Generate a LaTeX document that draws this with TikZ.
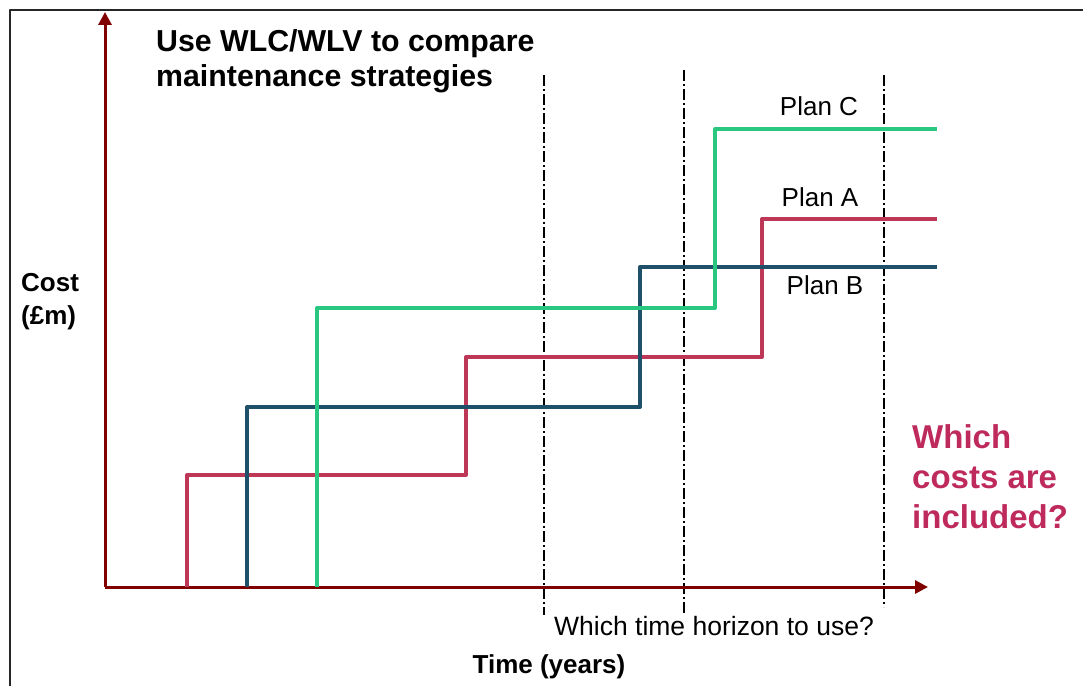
\documentclass[tikz,border=0pt]{standalone}
\usepackage{fontspec}
\setmainfont{Liberation Sans}
\usetikzlibrary{arrows.meta}
\definecolor{axisred}{RGB}{128,0,0}
\definecolor{planA}{RGB}{189,56,86}
\definecolor{planB}{RGB}{30,80,105}
\definecolor{planC}{RGB}{42,199,128}
\definecolor{askred}{RGB}{190,42,92}
\begin{document}
\begin{tikzpicture}[x=1pt,y=-1pt,>={Triangle[length=13pt,width=13pt]}, line join=round]
    \tikzset{plan/.style={line width=4pt},
        horizon/.style={line width=1.8pt, dash pattern=on 11pt off 3pt on 2pt off 3pt},
        lbl/.style={inner sep=0pt, font=\fontsize{26}{33}\selectfont}}
    \useasboundingbox (0,0) rectangle (1083,685);
    % frame
    \draw[line width=2pt, black!85] (10,700) -- (10,10) -- (1100,10);
    % axes
    \coordinate (O) at (105,587);
    \coordinate (ytip) at (105,12);
    \coordinate (xtip) at (928,587);
    % time horizons
    \foreach \x/\t/\b in {544/75/615, 684/70/615, 884/75/607}
        \draw[horizon] (\x,\t) -- (\x,\b);
    \draw[->, axisred, line width=3pt] (O) -- (ytip);
    \draw[->, axisred, line width=3pt] (O) -- (xtip);
    % cost profiles
    \draw[plan, planA] (187,587) |- (466,475) |- (762,357) |- (937,219);
    \draw[plan, planB] (247,587) |- (640,407) |- (937,267);
    \draw[plan, planC] (317,587) |- (715,308) |- (937,129);
    % labels
    \node[lbl] (labC) at (819,106) {Plan C};
    \node[lbl] (labA) at (820,197) {Plan A};
    \node[lbl] (labB) at (825,285) {Plan B};
    \node[lbl, anchor=west, align=left, font=\fontsize{30.3}{35}\selectfont\bfseries] (title) at (156,61)
        {Use WLC/WLV to compare\\maintenance strategies};
    \node[lbl, anchor=west, align=left, font=\fontsize{26}{33}\selectfont\bfseries] (cost) at (21,302) {Cost\\(£m)};
    \node[lbl, font=\fontsize{26}{33}\selectfont\bfseries] (time) at (549,667) {Time (years)};
    \node[lbl, font=\fontsize{26.5}{33}\selectfont] (horiz) at (714,626) {Which time horizon to use?};
    \node[lbl, anchor=west, align=left, text=askred, font=\fontsize{33}{40}\selectfont\bfseries] (ask) at (912,477)
        {Which\\costs are\\included?};
\end{tikzpicture}
\end{document}
